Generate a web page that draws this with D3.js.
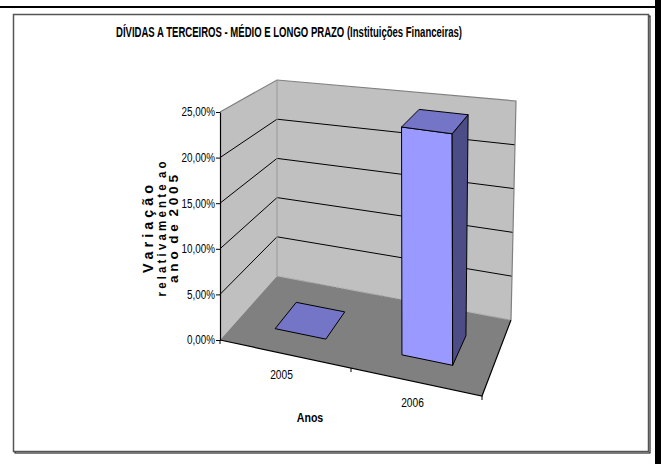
<!DOCTYPE html>
<html><head><meta charset="utf-8">
<script src="https://cdn.jsdelivr.net/npm/d3@7"></script>
<style>body{margin:0;background:#fff}svg{display:block}</style>
</head><body>
<svg id="chart" width="661" height="464"></svg>
<script>
// ---- data ----
const categories = ["2005", "2006"];
const values = [0, 24.7];               // % variation relative to 2005
const yTicks = [0, 5, 10, 15, 20, 25];
const yTickLabels = ["0,00%", "5,00%", "10,00%", "15,00%", "20,00%", "25,00%"];
const chartTitle = "DÍVIDAS A TERCEIROS - MÉDIO E LONGO PRAZO (Instituições Financeiras)";
const yTitleLines = ["V a r i a ç ã o", "r e l a t i v a m e n t e  a o", "a n o  d e  2 0 0 5"];
const xTitle = "Anos";

// ---- 3D box: screen position of the eight corners of the plot cube ----
// f/b = front/back, l/r = left/right, b/t = bottom/top
const box = {
  flb: [220, 340], frb: [482, 396], blb: [277, 276], brb: [511, 320],
  flt: [220, 112], frt: [479, 151], blt: [277, 80],  brt: [516, 101]
};
const lerp = (a, b, k) => [a[0] + (b[0] - a[0]) * k, a[1] + (b[1] - a[1]) * k];
// u: along categories (0..1), w: depth (0 front..1 back), t: height (0..1)
function P(u, w, t) {
  const fb = lerp(box.flb, box.frb, u), bb = lerp(box.blb, box.brb, u);
  const ft = lerp(box.flt, box.frt, u), bt = lerp(box.blt, box.brt, u);
  return lerp(lerp(fb, bb, w), lerp(ft, bt, w), t);
}

const x = d3.scaleBand().domain(categories).range([0, 1]).paddingInner(0.6).paddingOuter(0.3);
const y = d3.scaleLinear().domain([0, 25]).range([0, 1]);
const depth = [0.3, 0.7];

const NARROW = "Liberation Sans Narrow, Arial Narrow, Liberation Sans, Arial, sans-serif";
// squeeze a text element horizontally (narrow face look)
function condense(sel, k) {
  sel.each(function () {
    const len = this.getComputedTextLength();
    d3.select(this).attr("textLength", len * k).attr("lengthAdjust", "spacingAndGlyphs");
  });
}

const svg = d3.select("#chart");
const line = d3.line();

// page decorations
svg.append("rect").attr("x", 0).attr("y", 6).attr("width", 661).attr("height", 2).attr("fill", "#000");
svg.append("rect").attr("x", 655).attr("y", 0).attr("width", 6).attr("height", 464).attr("fill", "#000");

// chart area frame
svg.append("rect").attr("x", 15).attr("y", 16).attr("width", 635).attr("height", 437)
  .attr("fill", "none").attr("stroke", "#000").attr("stroke-width", 1);
svg.append("rect").attr("x", 13.5).attr("y", 14.5).attr("width", 635).attr("height", 437)
  .attr("fill", "#fff").attr("stroke", "#555").attr("stroke-width", 1.5);

// title
svg.append("text").attr("x", 116).attr("y", 37).text(chartTitle)
  .attr("font-family", NARROW)
  .attr("font-weight", "bold").attr("font-size", 14.5)
  .attr("textLength", 346).attr("lengthAdjust", "spacingAndGlyphs");

const poly = pts => line(pts) + "Z";

// walls and floor
svg.append("path").attr("d", poly([P(0,0,0), P(0,1,0), P(0,1,1), P(0,0,1)])).attr("fill", "#c0c0c0");
svg.append("path").attr("d", poly([P(0,1,0), P(1,1,0), P(1,1,1), P(0,1,1)])).attr("fill", "#c0c0c0");
svg.append("path").attr("d", poly([P(0,0,0), P(1,0,0), P(1,1,0), P(0,1,0)])).attr("fill", "#808080");

// gridlines on the walls
yTicks.filter(v => v > 0 && v < 25).forEach(v => {
  const t = y(v);
  svg.append("path").attr("d", line([P(0,0,t), P(0,1,t), P(1,1,t)]))
    .attr("fill", "none").attr("stroke", "#000").attr("stroke-width", 1);
});

// wall edges
svg.append("path").attr("d", line([P(0,0,1), P(0,1,1), P(1,1,1), P(1,1,0)]))
  .attr("fill", "none").attr("stroke", "#808080").attr("stroke-width", 1.2);
svg.append("path").attr("d", line([P(0,1,0), P(0,1,1)]))
  .attr("fill", "none").attr("stroke", "#999").attr("stroke-width", 1);
svg.append("path").attr("d", line([P(0,1,0), P(1,1,0)]))
  .attr("fill", "none").attr("stroke", "#a8a8a8").attr("stroke-width", 1.2).attr("stroke-dasharray", "3,2");

// floor edges (category axis)
svg.append("path").attr("d", line([P(0,0,0), P(1,0,0), P(1,1,0)]))
  .attr("fill", "none").attr("stroke", "#000").attr("stroke-width", 1.2);
d3.range(categories.length + 1).map(i => i * x.step()).forEach(u => {
  const p = P(u, 0, 0);
  svg.append("line").attr("x1", p[0]).attr("y1", p[1]).attr("x2", p[0]).attr("y2", p[1] + 4)
    .attr("stroke", "#000");
});

// bars
categories.forEach((c, i) => {
  const u0 = x(c), u1 = x(c) + x.bandwidth();
  const [w0, w1] = depth;
  const t = y(values[i]);
  const g = svg.append("g").attr("stroke", "#000").attr("stroke-width", 1).attr("stroke-linejoin", "round");
  if (t > 0) {
    g.append("path").attr("d", poly([P(u0,w0,0), P(u1,w0,0), P(u1,w0,t), P(u0,w0,t)])).attr("fill", "#9999ff");
    g.append("path").attr("d", poly([P(u1,w0,0), P(u1,w1,0), P(u1,w1,t), P(u1,w0,t)])).attr("fill", "#4c4c86");
  }
  g.append("path").attr("d", poly([P(u0,w0,t), P(u1,w0,t), P(u1,w1,t), P(u0,w1,t)])).attr("fill", "#7575c8");
});

// value axis on the front-left edge
const yScreen = d3.scaleLinear().domain([0, 25]).range([P(0,0,0)[1], P(0,0,1)[1]]);
const yAxis = svg.append("g").attr("transform", `translate(${P(0,0,0)[0]},0)`)
  .call(d3.axisLeft(yScreen).tickValues(yTicks).tickFormat((d, i) => yTickLabels[i])
    .tickSizeInner(4).tickSizeOuter(0).tickPadding(1));
yAxis.select(".domain").attr("stroke", "#000").attr("stroke-width", 1.2);
yAxis.selectAll("line").attr("stroke", "#000");
yAxis.selectAll("text").attr("font-family", NARROW).attr("font-size", 12).attr("fill", "#000")
  .call(condense, 0.82);

// category labels
categories.forEach(c => {
  const p = P(x(c) + x.bandwidth() / 2, 0, 0);
  svg.append("text").attr("x", p[0] - 4).attr("y", p[1] + 25).attr("text-anchor", "middle")
    .attr("font-family", NARROW).attr("font-size", 12).text(c).call(condense, 0.85);
});

// axis titles
svg.append("text").attr("x", 310).attr("y", 422).attr("text-anchor", "middle")
  .attr("font-family", NARROW).attr("font-weight", "bold").attr("font-size", 12.5).text(xTitle)
  .call(condense, 0.85);

// rotated three-line title of the value axis
const yTitleSize = [15, 13.5, 13.5];
const yTitleLen = [88, 135, 108];
const yTitleX = [153, 166, 178];
yTitleLines.forEach((s, i) => {
  svg.append("text").attr("transform", `translate(${yTitleX[i]},229) rotate(-90)`)
    .attr("text-anchor", "middle").attr("font-family", "Liberation Sans, Arial, sans-serif")
    .attr("font-weight", "bold").attr("font-size", yTitleSize[i]).attr("xml:space", "preserve")
    .attr("textLength", yTitleLen[i]).attr("lengthAdjust", "spacingAndGlyphs")
    .text(s);
});
</script>
</body></html>
